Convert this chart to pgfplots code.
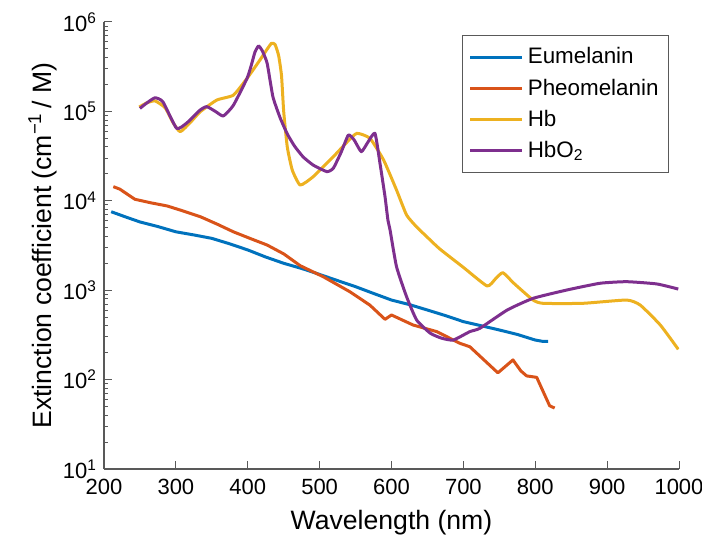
\documentclass[border=0pt]{standalone}
\usepackage{pgfplots}
\pgfplotsset{compat=1.18}
\usepackage{fontspec}
\setmainfont{Liberation Sans}
\definecolor{mblue}{rgb}{0,0.447,0.741}
\definecolor{morange}{rgb}{0.85,0.325,0.098}
\definecolor{myellow}{rgb}{0.929,0.694,0.125}
\definecolor{mpurple}{rgb}{0.494,0.184,0.556}
\definecolor{axgray}{gray}{0.35}
\begin{document}
\begin{tikzpicture}
\useasboundingbox (-52pt,-33pt) rectangle (299pt,234.5pt);
\begin{axis}[
  scale only axis,
  width=287.5pt, height=223.5pt,
  ymode=log,
  xmin=200, xmax=1000, ymin=10, ymax=1e6,
  axis lines*=left,
  axis line style={axgray, line width=0.6pt},
  tick style={axgray, line width=0.5pt},
  tick align=inside,
  major tick length=4pt,
  minor tick length=2pt,
  xtick={200,300,...,1000},
  xticklabel style={/pgf/number format/assume math mode=true, font=\fontsize{11}{13}\selectfont, /pgf/number format/1000 sep={}, yshift=-1.5pt},
  ytick={10,100,1000,10000,100000,1000000},
  yticklabels={10\textsuperscript{1},10\textsuperscript{2},10\textsuperscript{3},10\textsuperscript{4},10\textsuperscript{5},10\textsuperscript{6}},
  yticklabel style={font=\fontsize{11}{13}\selectfont},
  xlabel={Wavelength (nm)},
  ylabel={Extinction coefficient (cm\textsuperscript{−1}\,/ M)},
  label style={font=\fontsize{13.3}{15}\selectfont},
  xlabel style={yshift=-1pt},
  ylabel style={yshift=-4pt},
  legend style={at={(0.623,0.971)}, anchor=north west, draw=axgray, line width=0.6pt,
    font=\fontsize{11.2}{13}\selectfont, row sep=2pt, inner xsep=3pt, inner ysep=4pt},
  legend cell align=left,
  legend image code/.code={\draw[#1, line width=1.5pt] (0pt,0pt) -- (26pt,0pt);},
  every axis plot/.append style={line width=1.5pt, line join=round},
]
\addplot[mblue] coordinates {
(210,7550)(230,6600)(250,5800)(275,5150)(300,4500)(325,4150)(350,3800)(375,3300)
(400,2820)(425,2350)(450,2000)(475,1750)(500,1500)(525,1280)(550,1095)(575,920)
(600,776)(625,690)(650,600)(675,520)(700,445)(725,400)(750,359)(775,320)(800,277)
(810,268)(818,268)};
\addlegendentry{Eumelanin}
\addplot[morange] coordinates {
(213,14400)(222,13500)(243,10400)(265,9500)(288,8750)(310,7700)(334,6640)(357,5500)
(380,4500)(403,3800)(427,3200)(450,2550)(473,1880)(505,1415)(542,962)(570,680)(591,472)
(600,528)(630,408)(663,344)(695,255)(709,233)(748,119)(769,166)(780,125)(788,110)(802,106)
(820,51)(827,48)};
\addlegendentry{Pheomelanin}
\addplot[myellow, smooth, tension=0.3] coordinates {
(249,112000)(260,125000)(271,131000)(285,110000)(296,75000)(306,59300)(320,75000)(334,99300)
(357,134000)(380,152000)(399,234000)(417,376000)(425,470000)(433,578000)(438,560000)
(443,420000)(447,250000)(450,100000)(455,40000)(462,22000)(473,15000)(491,18600)
(519,31100)(540,47000)(552,56900)(570,50000)(589,28600)(607,13200)(621,6930)(635,5100)
(650,3900)(667,2900)(700,1800)(733,1115)(745,1350)(755,1570)(770,1200)(797,776)(811,713)
(866,713)(927,776)(946,682)(974,408)(999,218)};
\addlegendentry{Hb}
\addplot[mpurple, smooth, tension=0.3] coordinates {
(250,108000)(260,125000)(271,142000)(282,128000)(301,64700)(315,74000)(334,104000)(343,113000)
(355,100000)(366,88900)(380,117000)(399,234000)(405,330000)(410,460000)(415,539000)(420,480000)
(427,345000)(435,146000)(445,85000)(455,56000)(465,41000)(477,31000)(491,25100)(510,21200)
(519,23100)(530,35000)(540,54400)(548,48000)(558,35400)(567,45000)(577,56900)(584,26200)
(591,11100)(595,6100)(598,4710)(607,1830)(621,845)(635,464)(654,330)(670,290)(686,277)
(709,344)(723,375)(761,600)(797,811)(844,1005)(890,1195)(927,1245)(969,1175)(999,1030)};
\addlegendentry{HbO\textsubscript{2}}
\end{axis}
\end{tikzpicture}
\end{document}
